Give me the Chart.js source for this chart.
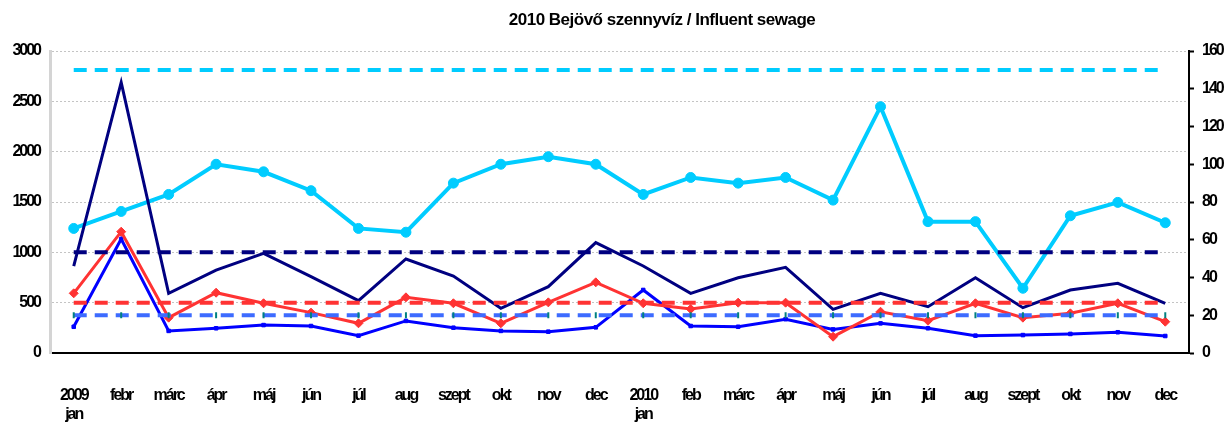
<!DOCTYPE html>
<html>
<head>
<meta charset="utf-8">
<script src="https://cdn.jsdelivr.net/npm/chart.js@4/dist/chart.umd.min.js"></script>
<style>
  html,body{margin:0;padding:0;background:#fff;}
  #wrap{width:1225px;height:426px;}
</style>
</head>
<body>
<div id="wrap"><canvas id="chart" width="1225" height="426"></canvas></div>
<script>
const chartTitle = '2010 Bejövő szennyvíz / Influent sewage';

const labels = [['2009','jan'],'febr','márc','ápr','máj','jún','júl','aug','szept','okt','nov','dec',
  ['2010','jan'],'feb','márc','ápr','máj','jún','júl','aug','szept','okt','nov','dec'];

// left axis (0-3000)
const navyVals = [864,2689,593,824,990,758,520,934,765,444,659,1096,864,593,748,851,434,593,460,748,450,626,692,494];
const redVals  = [593,1205,351,599,494,401,295,553,494,295,503,702,494,437,500,500,162,410,321,494,351,394,494,311];
const navyLimit = 1000;
const redLimit = 500;

// right axis (0-160)
const cyanVals = [66,75,84,100,96,86,66,64,90,100,104,100,84,93,90,93,81,130.5,69.6,69.6,34.3,72.7,79.8,69];
const blueVals = [13.9,60.4,11.7,13.1,14.8,14.3,9.2,17,13.4,11.7,11.3,13.6,33.4,14.3,13.9,17.9,12.5,15.7,13.1,9.2,9.5,10.1,11,9];
const cyanLimit = 150;
const blueLimit = 20;

const leftTicks = {min:0, max:3000, step:500};
const rightTicks = {min:0, max:160, step:20};

const FONT = '"Liberation Sans",Arial,sans-serif';
const flat = v => labels.map(()=>v);

// squeezed look of the axis labels + title drawn by hand
const spacing = {
  id:'spacing',
  beforeLayout(c){ c.ctx.letterSpacing = '-2px'; },
  beforeDraw(c){ c.ctx.letterSpacing = '-2px'; },
  afterDraw(c){
    const ctx = c.ctx;
    ctx.save();
    ctx.letterSpacing = '-0.5px';
    ctx.font = 'bold 17px ' + FONT;
    ctx.fillStyle = '#000';
    ctx.textAlign = 'center';
    ctx.textBaseline = 'alphabetic';
    ctx.fillText(chartTitle, 662, 25);
    ctx.restore();
  }
};

const dashed = (data, color, axis, extra) => Object.assign({
  data, yAxisID: axis, borderColor: color, borderWidth: 4, borderDash: [13,8],
  pointRadius: 0, fill: false, tension: 0
}, extra || {});

new Chart(document.getElementById('chart').getContext('2d'), {
  type: 'line',
  data: {
    labels,
    datasets: [
      dashed(flat(cyanLimit), '#00CCFF', 'y1'),
      dashed(flat(navyLimit), '#000080', 'y'),
      dashed(flat(redLimit), '#FF3333', 'y'),
      dashed(flat(blueLimit), '#3D6BFF', 'y1', {
        pointRadius: 3, pointStyle: 'line', rotation: 90,
        pointBorderColor: '#008080', pointBorderWidth: 2
      }),
      { data: navyVals, yAxisID: 'y', borderColor: '#000080', borderWidth: 3, pointRadius: 0 },
      { data: cyanVals, yAxisID: 'y1', borderColor: '#00CCFF', backgroundColor: '#00CCFF', borderWidth: 4,
        pointStyle: 'circle', pointRadius: 5, pointBorderWidth: 1 },
      { data: redVals, yAxisID: 'y', borderColor: '#FF3333', backgroundColor: '#FF3333', borderWidth: 3,
        pointStyle: 'rectRot', pointRadius: 4.5, pointBorderWidth: 1 },
      { data: blueVals, yAxisID: 'y1', borderColor: '#0000FF', backgroundColor: '#0000FF', borderWidth: 3,
        pointStyle: 'rect', pointRadius: 2.5, pointBorderWidth: 1 }
    ]
  },
  options: {
    responsive: false,
    animation: false,
    devicePixelRatio: 1,
    layout: { padding: { top: 51, left: 0, right: 0, bottom: 0 } },
    plugins: { legend: { display: false }, tooltip: { enabled: false }, title: { display: false } },
    scales: {
      x: {
        offset: true,
        grid: { display: false, drawTicks: false },
        border: { color: '#000', width: 2 },
        ticks: { color: '#000', font: { family: FONT, size: 16, weight: 'bold', lineHeight: 1.2 }, padding: 33,
                 maxRotation: 0, autoSkip: false },
        afterFit(s){ s.height = 73; }
      },
      y: {
        position: 'left',
        min: leftTicks.min, max: leftTicks.max,
        grid: { color: '#c4c4c4', lineWidth: 1, drawTicks: false },
        border: { color: '#d4d4d4', width: 3, dash: [2,2] },
        ticks: { stepSize: leftTicks.step, color: '#000', padding: 10, callback: v => String(v),
                 font: { family: FONT, size: 16, weight: 'bold' } },
        afterFit(s){ s.width = 50; }
      },
      y1: {
        position: 'right',
        min: rightTicks.min, max: rightTicks.max,
        grid: { drawOnChartArea: false, drawTicks: true, tickLength: 5, tickColor: '#000', tickWidth: 2 },
        border: { color: '#000', width: 2 },
        ticks: { stepSize: rightTicks.step, color: '#000', padding: 8, callback: v => String(v),
                 font: { family: FONT, size: 16, weight: 'bold' } },
        afterFit(s){ s.width = 36; }
      }
    }
  },
  plugins: [spacing]
});
</script>
</body>
</html>
